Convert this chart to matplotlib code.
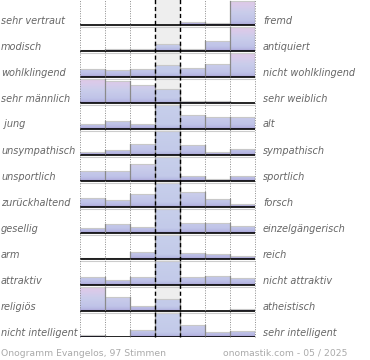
import numpy as np
import matplotlib
matplotlib.use("Agg")
import matplotlib.pyplot as plt
from matplotlib.patches import Rectangle
from matplotlib.colors import LinearSegmentedColormap
from matplotlib.transforms import blended_transform_factory

left_labels = ["sehr vertraut", "modisch", "wohlklingend", "sehr männlich", " jung",
               "unsympathisch", "unsportlich", "zurückhaltend", "gesellig", "arm",
               "attraktiv", "religiös", "nicht intelligent"]
right_labels = ["fremd", "antiquiert", "nicht wohlklingend", "sehr weiblich", "alt",
                "sympathisch", "sportlich", "forsch", "einzelgängerisch", "reich",
                "nicht attraktiv", "atheistisch", "sehr intelligent"]
# relative bar heights per row (7 bins), max of each row = 24
values = [
    [0, 0, 0, 0, 3.5, 2, 24],
    [1.5, 2.5, 2.5, 7, 2.5, 10.5, 24],
    [8, 7, 8, 12, 9, 13, 24],
    [24, 22, 18, 14, 2, 2, 0],
    [5, 8.5, 5, 24, 14, 12, 12.5],
    [3.5, 5, 11, 24, 10, 3, 6.5],
    [10, 10, 17, 24, 5, 2.5, 5],
    [9, 7, 13, 24, 15, 8, 3],
    [5, 9.5, 6.5, 24, 10.5, 10.5, 7.5],
    [1.5, 1.5, 7, 24, 6.5, 5.5, 3],
    [8, 5.5, 8, 24, 8, 9.5, 7],
    [24, 14.5, 5.5, 12, 0, 0, 2.5],
    [2.5, 0, 7.5, 24, 12, 5, 6.5],
]
footer_left = "Onogramm Evangelos, 97 Stimmen"
footer_right = "onomastik.com - 05 / 2025"

W, H = 370, 360
fig = plt.figure(figsize=(W / 100, H / 100), dpi=100)
nrows = len(values)
ncols = 7
row_px = 26.0
top_px = -1.0
bottom_px = top_px + nrows * row_px
ax = fig.add_axes([80 / W, (H - bottom_px) / H, 175 / W, nrows * row_px / H])
ax.set_xlim(0, ncols)
ax.set_ylim(0, nrows)
ax.axis("off")

full = 24.0 / row_px

cmap_side = LinearSegmentedColormap.from_list("side", [
    (0.0, "#a89fd3"), (0.08, "#b6b6e2"), (0.2, "#c0c4e8"),
    (0.55, "#cacdeb"), (0.8, "#d8cbea"), (1.0, "#e0c8e7")])
cmap_mid = LinearSegmentedColormap.from_list("mid", [
    (0.0, "#a89fd3"), (0.08, "#b8bce4"), (0.2, "#c3cae9"), (1.0, "#c7cfeb")])
grad = np.linspace(1, 0, 128).reshape(-1, 1)

# central column background
ax.add_patch(Rectangle((3, 0), 1, nrows + 0.2, facecolor="#eeeeee", edgecolor="none", zorder=0, clip_on=False))

for i, row in enumerate(values):
    base = nrows - 1 - i
    for j, v in enumerate(row):
        h = v / 24.0 * full
        if h <= 0:
            continue
        rect = Rectangle((j, base), 1, h, facecolor="none", edgecolor="none")
        ax.add_patch(rect)
        im = ax.imshow(grad, extent=(j, j + 1, base, base + full), aspect="auto",
                       cmap=cmap_mid if j == 3 else cmap_side, vmin=0, vmax=1,
                       interpolation="bilinear", zorder=1)
        im.set_clip_path(rect)
        ax.plot([j, j + 1], [base + h, base + h], color="#c8c8c8", lw=0.8, zorder=2,
                solid_capstyle="butt")
    for k in range(1, ncols + 1):
        hl = row[k - 1] / 24.0 * full
        hr = row[k] / 24.0 * full if k < ncols else 0
        hh = max(hl, hr)
        if hh > 0:
            ax.plot([k, k], [base, base + hh], color="#8c8c8c", lw=0.9, zorder=3)
    ax.plot([0, ncols], [base - 1.6 / row_px] * 2, color="#cccccc", lw=0.8, zorder=3)
    ax.plot([0, ncols], [base, base], color="black", lw=1.2, zorder=4, solid_capstyle="butt")

for k in [0, 1, 2, 5, 6, 7]:
    ax.plot([k, k], [0, nrows + 0.2], color="#8a8a8a", lw=0.7, ls=(0, (1, 1.5)), zorder=5, clip_on=False)
for k in [3, 4]:
    ax.plot([k, k], [0, nrows + 0.2], color="black", lw=1.0, ls=(0, (3, 2)), zorder=5, clip_on=False)

tr = blended_transform_factory(fig.transFigure, ax.transData)
off = 1.5 / row_px
for i in range(nrows):
    base = nrows - 1 - i
    ax.text(1 / W, base + off, left_labels[i], transform=tr, ha="left", va="baseline",
            style="italic", color="#666666", fontsize=7, family="DejaVu Sans")
    ax.text(263 / W, base + off, right_labels[i], transform=tr, ha="left", va="baseline",
            style="italic", color="#666666", fontsize=7, family="DejaVu Sans")

fig.text(1 / W, (H - 356) / H, footer_left, ha="left", va="baseline", color="#aaaaaa", fontsize=6.7)
fig.text(347 / W, (H - 356) / H, footer_right, ha="right", va="baseline", color="#aaaaaa", fontsize=6.7)

fig.savefig("out.png", dpi=100)
